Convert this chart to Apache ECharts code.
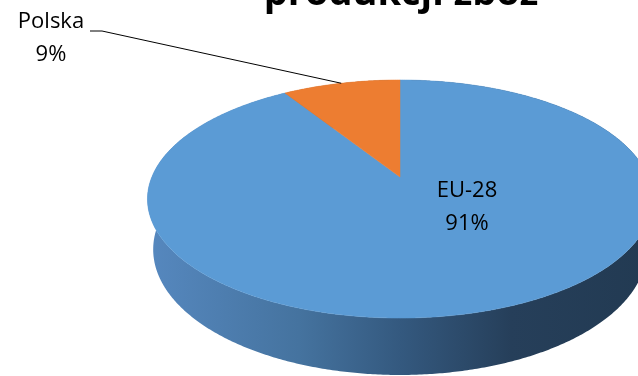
<!DOCTYPE html>
<html>
<head>
<meta charset="utf-8">
<script src="https://cdn.jsdelivr.net/npm/echarts@6/dist/echarts.min.js"></script>
<style>html,body{margin:0;padding:0;background:#fff}#c{width:638px;height:376px}</style>
</head>
<body>
<div id="c"></div>
<script>
// ---- data ----
const categories = ['EU-28', 'Polska'];
const values = [91, 9];
const titleText = 'produkcji zbóż';

// ---- layout / style ----
const topColors = ['#5b9bd5', '#ed7d31'];
const CX = 400, CY = 177, K = 1188.7, DIST = 4.79, ELEV = 27.6 * Math.PI / 180, THICK = 0.231;
const FONT = '22px "Open Sans"';
const labelPos = [ {x: 467, y: 207}, {x: 51, y: 38.5} ];
const leaderStart = [[90, 31], [102, 31]];

const total = values.reduce((a, b) => a + b, 0);
const starts = [];
values.reduce((acc, v, i) => { starts[i] = acc; return acc + v; }, 0);

function projXYZ(X, Y, Z) {
  const s = Math.sin(ELEV), c = Math.cos(ELEV);
  const yc = Y * c - Z * s;
  const zc = Y * s + Z * c;
  const depth = DIST - zc;
  return [CX + K * X / depth, CY - K * yc / depth];
}
function proj(t, Y) { return projXYZ(Math.sin(t), Y, -Math.cos(t)); }
function arc(a0, a1, Y) {
  const pts = [];
  const n = Math.max(2, Math.ceil(Math.abs(a1 - a0) / (Math.PI / 360)));
  for (let i = 0; i <= n; i++) pts.push(proj(a0 + (a1 - a0) * i / n, Y));
  return pts;
}

const chart = echarts.init(document.getElementById('c'), null, {renderer: 'canvas'});
const wallGrad = [
  new echarts.graphic.LinearGradient(147, 0, 653, 0, [
    {offset: 0, color: '#5688bf'}, {offset: 0.3, color: '#45739f'},
    {offset: 0.5, color: '#34597f'}, {offset: 0.72, color: '#263f5a'},
    {offset: 1, color: '#223a52'}], true),
  new echarts.graphic.LinearGradient(147, 0, 653, 0, [
    {offset: 0, color: '#c86a2a'}, {offset: 1, color: '#6e3a17'}], true)
];

chart.setOption({
  animation: false,
  backgroundColor: '#fff',
  graphic: [{
    type: 'text', x: 401, y: 13, z: 10,
    style: {text: titleText, font: 'bold 38px "Open Sans"', fill: '#000', align: 'center', verticalAlign: 'bottom'}
  }],
  series: [{
    type: 'custom',
    coordinateSystem: 'none',
    data: values.map((v, i) => [v, i]),
    renderItem: function (params, api) {
      const i = params.dataIndex;
      const v = api.value(0);
      const a0 = starts[i] / total * 2 * Math.PI;
      const a1 = (starts[i] + v) / total * 2 * Math.PI;
      const topArc = arc(a0, a1, 0);
      const botArc = arc(a0, a1, -THICK).reverse();
      const children = [
        {type: 'polygon', z2: 1, shape: {points: topArc.concat(botArc)}, style: {fill: wallGrad[i]}},
        {type: 'polygon', z2: 10, shape: {points: [projXYZ(0, 0, 0)].concat(topArc)}, style: {fill: topColors[i], stroke: topColors[i], lineWidth: 0.5}}
      ];
      const pct = Math.round(v / total * 100) + '%';
      children.push({
        type: 'text', z2: 20,
        style: {text: categories[i] + '\n' + pct, x: labelPos[i].x, y: labelPos[i].y, font: FONT, lineHeight: 33,
          fill: '#000', align: 'center', verticalAlign: 'middle'}
      });
      if (i === 1) {
        const mid = (a0 + a1) / 2;
        children.push({
          type: 'polyline', z2: 20,
          shape: {points: leaderStart.concat([proj(mid, 0)])},
          style: {stroke: '#000', lineWidth: 1, fill: null}
        });
      }
      return {type: 'group', children: children};
    }
  }]
});
</script>
</body>
</html>
